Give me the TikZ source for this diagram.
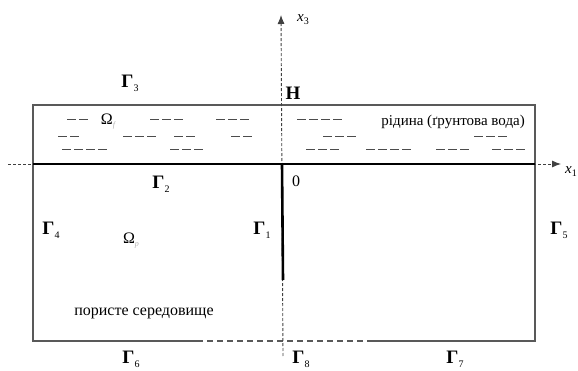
\documentclass[tikz,border=0pt]{standalone}
\usepackage{fontspec}
\setmainfont{Liberation Serif}
\usetikzlibrary{arrows.meta}
\begin{document}
\begin{tikzpicture}[x=1pt,y=-1pt,
  frame/.style={draw=black!65,line width=1.3pt},
  bound/.style={draw=black,line width=2.2pt},
  axis/.style={draw=black!75,line width=0.9pt,dash pattern=on 3pt off 2pt},
  botdash/.style={draw=black!65,line width=1.3pt,dash pattern=on 6pt off 4pt},
  wdash/.style={draw=black!70,line width=0.8pt},
  glab/.style={font=\fontsize{19}{19}\selectfont\bfseries,inner sep=0pt},
  txt/.style={font=\fontsize{15}{15}\selectfont,inner sep=0pt},
  ax/.style={font=\fontsize{15}{15}\selectfont\itshape,inner sep=0pt}]
\useasboundingbox (0,0) rectangle (578,371);
\newcommand{\Gsub}[1]{Γ\raisebox{-4pt}{\fontsize{10}{10}\selectfont\mdseries #1}}
% corners
\coordinate (TL) at (33,105);
\coordinate (TR) at (535,105);
\coordinate (ML) at (33,164);
\coordinate (MR) at (535,164);
\coordinate (BL) at (33,341);
\coordinate (BR) at (535,341);
\coordinate (D1) at (197,341);
\coordinate (D2) at (368,341);
\coordinate (O) at (282,164);
\coordinate (G1end) at (283,280);
\coordinate (Bot) at (283,341);
\coordinate (AxB) at (283,356);
\coordinate (AxT) at (281,15);
\coordinate (AxL) at (8,164);
\coordinate (AxR) at (561,164);
% frame
\draw[frame] (D1) -- (BL) -- (TL) -- (TR) -- (BR) -- (D2);
\draw[botdash] (D1) -- (D2);
% axes
\draw[axis,-{Latex[length=9pt,width=7pt]}] (AxB) -- (AxT);
\draw[axis,-{Latex[length=9pt,width=7pt]}] (AxL) -- (AxR);
% boundaries
\draw[bound] (ML) -- (MR);
\draw[draw=black,line width=2.6pt] (O) -- (G1end);
% water dashes: start / count / row
\foreach \a/\n/\y in {67/2/119,150/3/119,216/3/119,297/4/119,
  58/2/136,123/3/136,174/2/136,231/2/136,323/3/136,474/3/136,
  62/4/149,170/3/149,306/3/149,366/4/149,436/3/149,492/3/149}
  {\foreach \i in {1,...,\n}
    {\draw[wdash] ({\a+12*(\i-1)},\y) -- ({\a+12*(\i-1)+9},\y);}}
% labels
\node[glab] (g3) at (130,83) {\Gsub{3}};
\node[glab] (g2) at (161,184) {\Gsub{2}};
\node[glab] (g4) at (51,230) {\Gsub{4}};
\node[glab] (g1) at (262,230) {\Gsub{1}};
\node[glab] (g5) at (559,230) {\Gsub{5}};
\node[glab] (g6) at (131,359) {\Gsub{6}};
\node[glab] (g8) at (301,359) {\Gsub{8}};
\node[glab] (g7) at (455,359) {\Gsub{7}};
\node[glab] (H) at (293,93) {H};
\node[font=\fontsize{16}{16}\selectfont,inner sep=0pt] (zero) at (296,181) {0};
\node[ax] (x3) at (303,20) {x\raisebox{-3pt}{\fontsize{10}{10}\selectfont\upshape 3}};
\node[ax] (x1) at (571,172) {x\raisebox{-3pt}{\fontsize{10}{10}\selectfont\upshape 1}};
\node[font=\fontsize{16}{16}\selectfont,inner sep=0pt] (of) at (108,122) {Ω\raisebox{-3pt}{\textcolor{black!30}{\fontsize{8}{8}\selectfont\itshape f}}};
\node[font=\fontsize{16}{16}\selectfont,inner sep=0pt] (op) at (131,241) {Ω\raisebox{-3pt}{\textcolor{black!30}{\fontsize{8}{8}\selectfont\itshape p}}};
\node[txt,anchor=east] (fluid) at (525,122) {рідина (ґрунтова вода)};
\node[txt,font=\fontsize{16}{16}\selectfont] (porous) at (144,313) {пористе середовище};
\end{tikzpicture}
\end{document}
